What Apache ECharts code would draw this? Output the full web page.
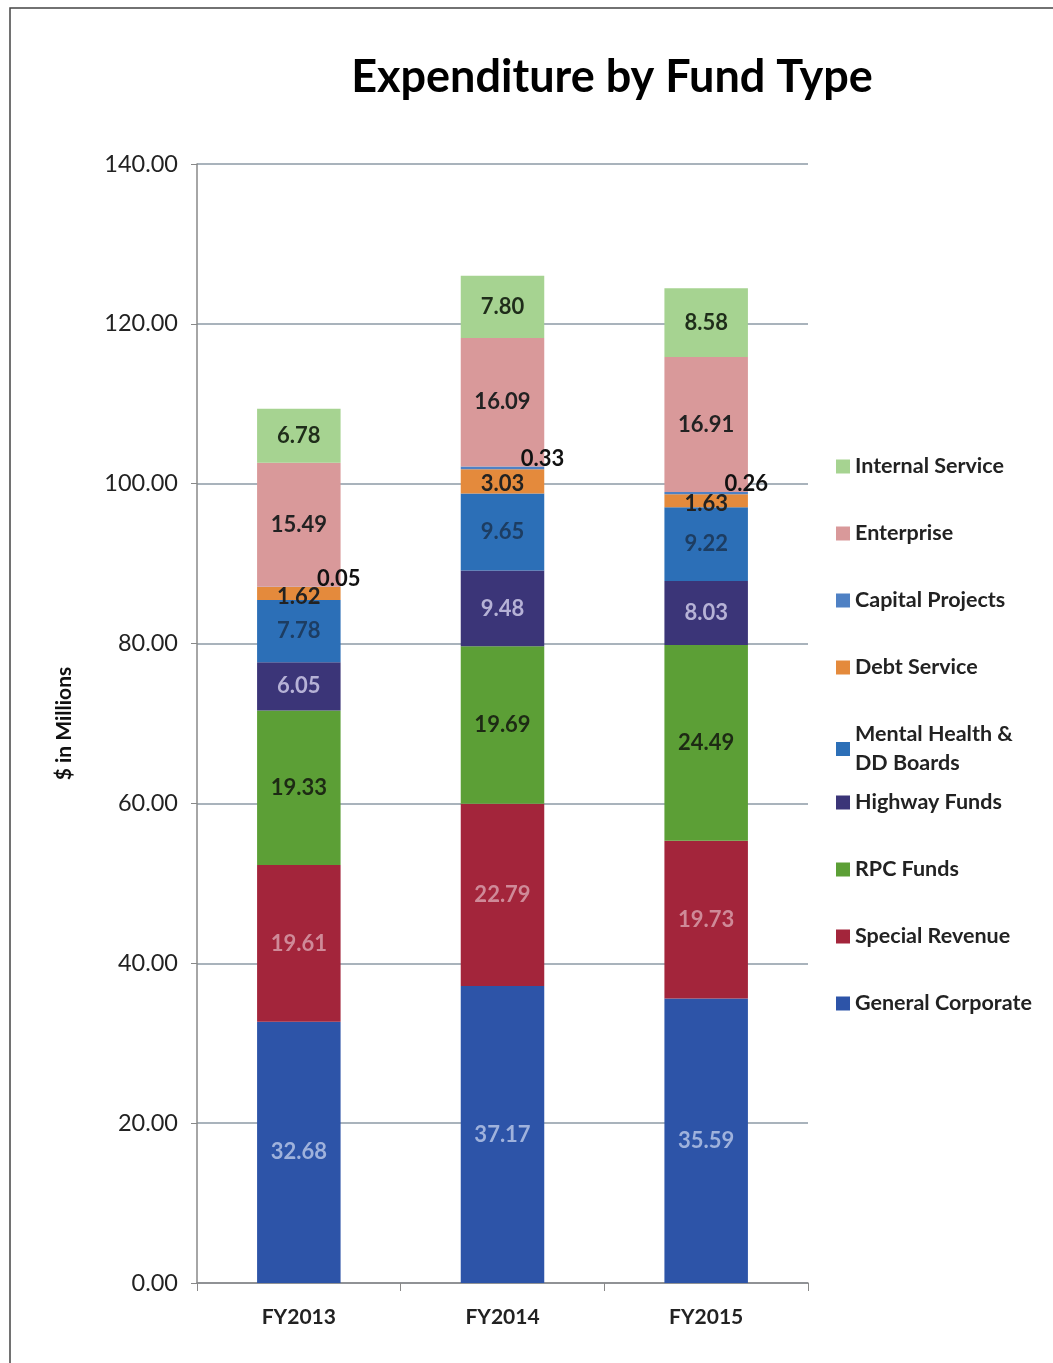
<!DOCTYPE html>
<html>
<head>
<meta charset="utf-8">
<script src="https://cdn.jsdelivr.net/npm/echarts@6/dist/echarts.min.js"></script>
<style>
html, body { margin: 0; padding: 0; background: #fff; }
#chart { width: 1053px; height: 1363px; }
</style>
</head>
<body>
<div id="chart"></div>
<script>
var years = ['FY2013', 'FY2014', 'FY2015'];
var generalCorporate = [32.68, 37.17, 35.59];
var specialRevenue = [19.61, 22.79, 19.73];
var rpcFunds = [19.33, 19.69, 24.49];
var highwayFunds = [6.05, 9.48, 8.03];
var mentalHealth = [7.78, 9.65, 9.22];
var debtService = [1.62, 3.03, 1.63];
var capitalProjects = [0.05, 0.33, 0.26];
var enterprise = [15.49, 16.09, 16.91];
var internalService = [6.78, 7.80, 8.58];

var font = 'Lato';

function makeSeries(name, data, color, labelColor, extra) {
    var s = {
        name: name,
        type: 'bar',
        stack: 'fund',
        barWidth: '41%',
        data: data,
        itemStyle: { color: color },
        label: {
            show: true,
            position: 'inside',
            color: labelColor,
            fontFamily: font,
            fontSize: 22,
            fontWeight: 'bold',
            formatter: function (p) { return p.value.toFixed(2); }
        }
    };
    if (extra) {
        for (var k in extra) s.label[k] = extra[k];
    }
    return s;
}

function generateFundChart() {
    var chartDom = document.getElementById('chart');
    var myChart = echarts.init(chartDom);
    var option;

    var legendText = { fontFamily: font, fontSize: 21.5, fontWeight: 'bold', color: '#222', lineHeight: 29 };

    option = {
        animation: false,
        title: {
            text: 'Expenditure by Fund Type',
            left: 607,
            textAlign: 'center',
            top: 50,
            textStyle: { fontFamily: font, fontSize: 45, fontWeight: 'bold', color: '#000' }
        },
        graphic: [
            {
                type: 'rect',
                shape: { x: 10, y: 8, width: 1060, height: 1370 },
                style: { fill: 'none', stroke: '#444', lineWidth: 1.5 }
            }
        ],
        legend: [
            {
                orient: 'vertical',
                left: 831,
                top: 447,
                itemWidth: 14,
                itemHeight: 14,
                itemGap: 38,
                icon: 'rect',
                textStyle: legendText,
                formatter: function (n) {
                    return n === 'Mental Health & DD Boards' ? 'Mental Health &\nDD Boards' : n;
                },
                data: ['Internal Service', 'Enterprise', 'Capital Projects', 'Debt Service', 'Mental Health & DD Boards']
            },
            {
                orient: 'vertical',
                left: 831,
                top: 783,
                itemWidth: 14,
                itemHeight: 14,
                itemGap: 38,
                icon: 'rect',
                textStyle: legendText,
                data: ['Highway Funds', 'RPC Funds', 'Special Revenue', 'General Corporate']
            }
        ],
        grid: { left: 197, right: 245, top: 164, bottom: 80 },
        xAxis: {
            type: 'category',
            data: years,
            axisLine: { lineStyle: { color: '#888', width: 1.5 } },
            axisTick: { show: true, length: 8, lineStyle: { color: '#888' } },
            axisLabel: { fontFamily: font, fontSize: 21, fontWeight: 'bold', color: '#222', margin: 24 }
        },
        yAxis: {
            type: 'value',
            min: 0,
            max: 140,
            interval: 20,
            name: '$ in Millions',
            nameLocation: 'middle',
            nameGap: 122,
            nameTextStyle: { fontFamily: font, fontSize: 21, fontWeight: 'bold', color: '#111' },
            axisLine: { show: true, lineStyle: { color: '#888', width: 1.5 } },
            axisTick: { show: true, length: 6, lineStyle: { color: '#888' } },
            splitLine: { lineStyle: { color: '#8d9aa6', width: 1.5 } },
            axisLabel: {
                fontFamily: font, fontSize: 23.5, color: '#222', margin: 19,
                formatter: function (v) { return v.toFixed(2); }
            }
        },
        series: [
            makeSeries('General Corporate', generalCorporate, '#2d54a8', '#9fb2dc'),
            makeSeries('Special Revenue', specialRevenue, '#a3253b', '#cf8a98'),
            makeSeries('RPC Funds', rpcFunds, '#5c9f36', '#1d2a14'),
            makeSeries('Highway Funds', highwayFunds, '#3b3578', '#b6b2d6'),
            makeSeries('Mental Health & DD Boards', mentalHealth, '#2c6fb7', '#1d3d62'),
            makeSeries('Debt Service', debtService, '#e48a3c', '#222', { offset: [0, 3] }),
            makeSeries('Capital Projects', capitalProjects, '#4f81c4', '#111', { position: 'top', offset: [40, 8] }),
            makeSeries('Enterprise', enterprise, '#d9999a', '#222'),
            makeSeries('Internal Service', internalService, '#a6d391', '#1f2d1a')
        ]
    };

    option && myChart.setOption(option);
}

generateFundChart();
</script>
</body>
</html>
